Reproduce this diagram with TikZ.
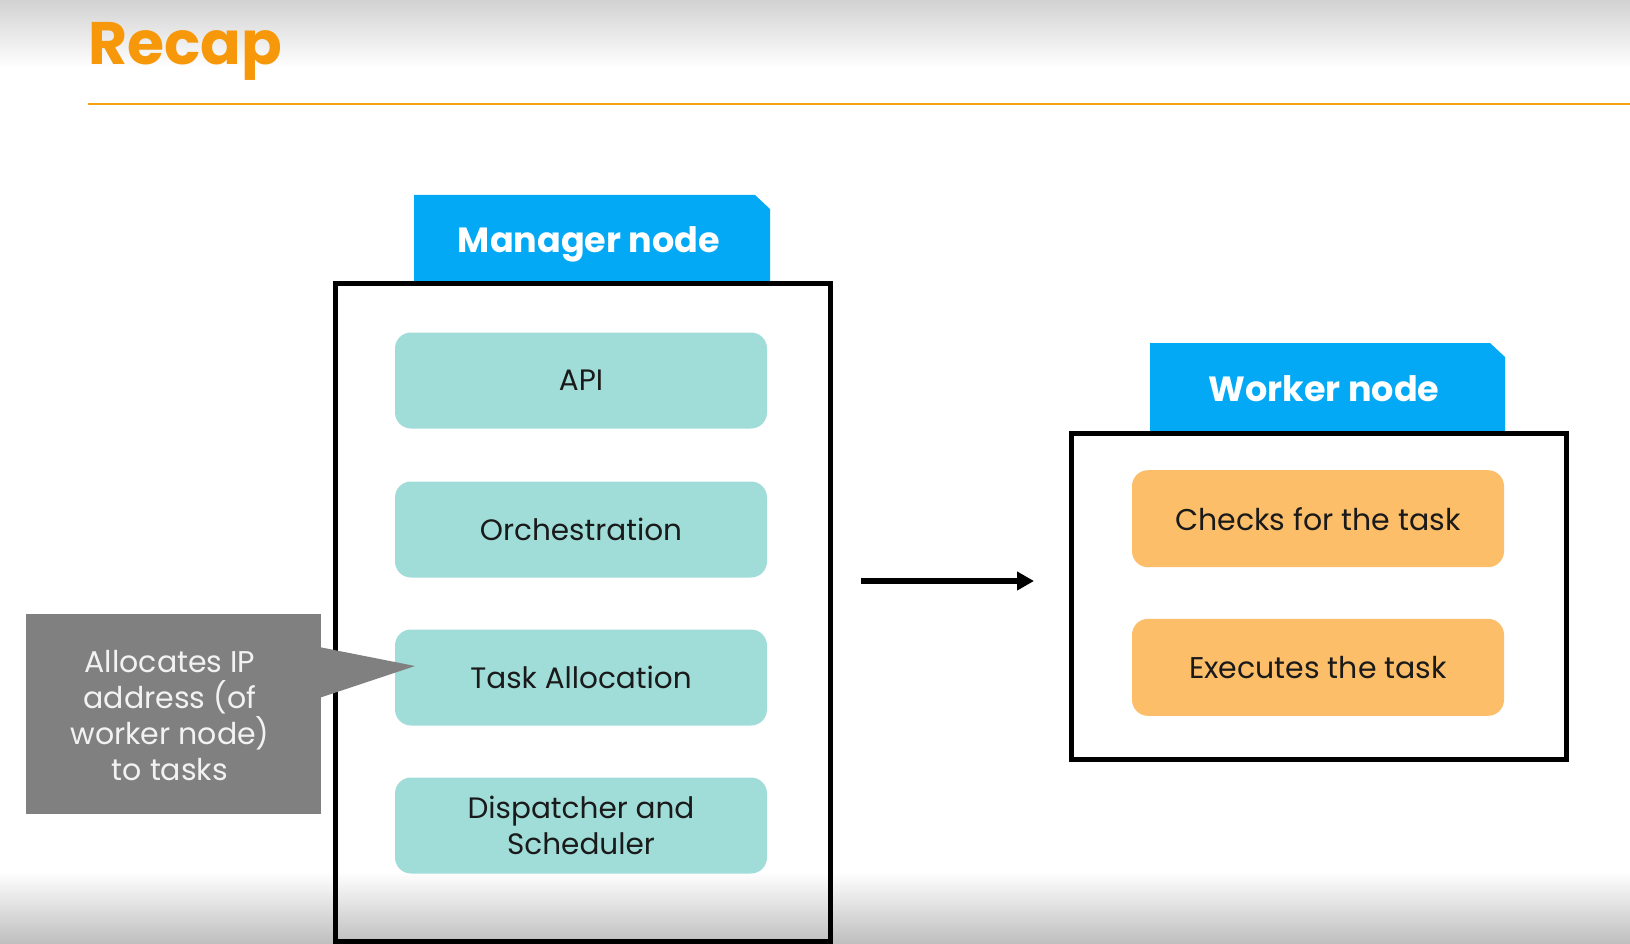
\documentclass[tikz,border=0pt]{standalone}
\usepackage{fontspec}
\setmainfont{Poppins}
\usetikzlibrary{arrows.meta}
\definecolor{bgtop}{HTML}{D2D2D2}
\definecolor{bgbot}{HTML}{BEBEBE}
\definecolor{titleor}{HTML}{F7980A}
\definecolor{lineor}{HTML}{F5A00E}
\definecolor{tabblue}{HTML}{03A9F4}
\definecolor{teal}{HTML}{A0DDD9}
\definecolor{orbox}{HTML}{FDBE69}
\definecolor{callgray}{HTML}{808080}
\definecolor{txt}{HTML}{1A1A1A}
\begin{document}
\begin{tikzpicture}[x=1pt,y=-1pt,
  framebox/.style={draw=black,line width=5pt,inner sep=0pt,fill=none},
  tealbox/.style={fill=teal,rounded corners=16pt,minimum width=372pt,minimum height=96pt,inner sep=0pt,text=txt,align=center,font=\fontsize{29.5}{36}\selectfont},
  orbox/.style={fill=orbox,rounded corners=16pt,minimum width=372pt,minimum height=97pt,inner sep=0pt,text=txt,align=center,font=\fontsize{30}{36}\selectfont},
  tabtext/.style={text=white,inner sep=0pt,font=\fontsize{35}{40}\selectfont\bfseries},
  calltext/.style={text=white,inner sep=0pt,align=center,font=\fontsize{30}{36}\selectfont}]
\useasboundingbox (0,0) rectangle (1630,944);
\fill[white] (0,0) rectangle (1630,944);
\shade[top color=bgtop,bottom color=white] (0,0) rectangle (1630,68);
\shade[top color=white,bottom color=bgbot] (0,872) rectangle (1630,944);

% title
\node[anchor=base west,inner sep=0pt,text=titleor,font=\fontsize{60}{60}\selectfont\bfseries] (title) at (88,65) {Recap};
\coordinate (l1) at (88,104);
\coordinate (l2) at (1630,104);
\draw[lineor,line width=2.2pt] (l1) -- (l2);

% manager tab
\fill[tabblue] (414,195) -- (755,195) -- (770,209) -- (770,281) -- (414,281) -- cycle;
\node[tabtext] (mtab) at (589,244) {Manager node};
\node[framebox,minimum width=495.5pt,minimum height=658pt] (mgr) at (582.75,612.5) {};

\node[tealbox] (api) at (581,380.5) {API};
\node[tealbox] (orch) at (581,529.5) {Orchestration};
\node[tealbox] (task) at (581,677.5) {Task Allocation};
\node[tealbox] (disp) at (581,825.5) {Dispatcher and\\Scheduler};

% worker tab
\fill[tabblue] (1150,343) -- (1490,343) -- (1505,357) -- (1505,431) -- (1150,431) -- cycle;
\node[tabtext] (wtab) at (1324,389) {Worker node};
\node[framebox,minimum width=495pt,minimum height=326pt] (wrk) at (1318.5,596) {};

\node[orbox] (checks) at (1318,518.7) {Checks for the task};
\node[orbox] (exec) at (1318,667.3) {Executes the task};

% arrow
\coordinate (a1) at (861,581);
\coordinate (a2) at (1034,581);
\draw[line width=6pt,-{Triangle[length=17pt,width=18pt]}] (a1) -- (a2);

% callout
\node[fill=callgray,minimum width=295pt,minimum height=200pt,inner sep=0pt] (call) at (173.5,714) {};
\fill[callgray] (319,647) -- (415,666) -- (319,698) -- cycle;
\node[calltext,text=white!95!black] (calltxt) at (170,716) {Allocates IP\\address (of\\worker node)\\to tasks};
\end{tikzpicture}
\end{document}
